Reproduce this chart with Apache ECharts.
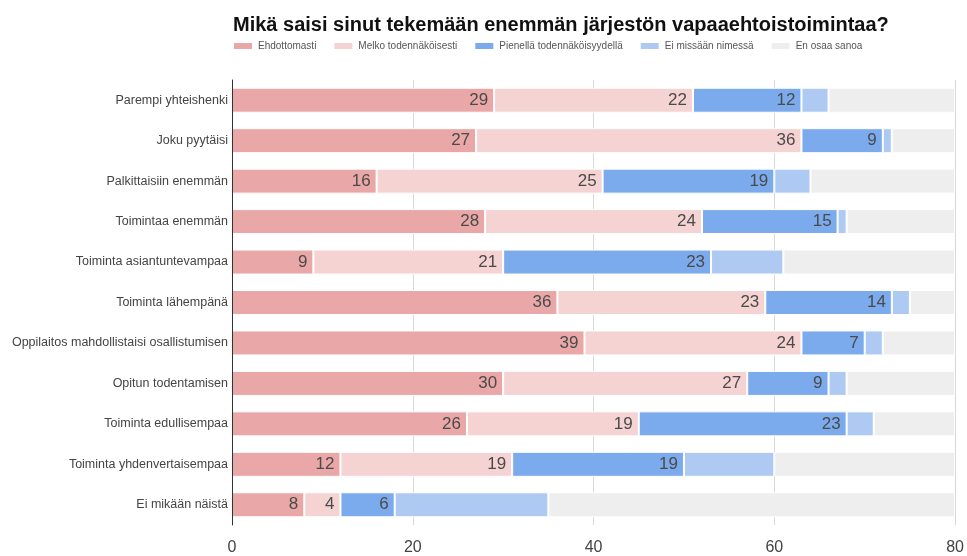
<!DOCTYPE html>
<html>
<head>
<meta charset="utf-8">
<script src="https://cdn.jsdelivr.net/npm/echarts@6/dist/echarts.min.js"></script>
<style>
html, body { margin: 0; padding: 0; background: #fff; }
#main { width: 967px; height: 556px; }
</style>
</head>
<body>
<div id="main"></div>
<script>
var categories = [
    'Parempi yhteishenki',
    'Joku pyytäisi',
    'Palkittaisiin enemmän',
    'Toimintaa enemmän',
    'Toiminta asiantuntevampaa',
    'Toiminta lähempänä',
    'Oppilaitos mahdollistaisi osallistumisen',
    'Opitun todentamisen',
    'Toiminta edullisempaa',
    'Toiminta yhdenvertaisempaa',
    'Ei mikään näistä'
];
var seriesNames = ['Ehdottomasti', 'Melko todennäköisesti', 'Pienellä todennäköisyydellä', 'Ei missään nimessä', 'En osaa sanoa'];
var ehdottomasti = [29, 27, 16, 28, 9, 36, 39, 30, 26, 12, 8];
var melko = [22, 36, 25, 24, 21, 23, 24, 27, 19, 19, 4];
var pienella = [12, 9, 19, 15, 23, 14, 7, 9, 23, 19, 6];
var eiMissaan = [3, 1, 4, 1, 8, 2, 2, 2, 3, 10, 17];
var enOsaa = [14, 7, 16, 12, 19, 5, 8, 12, 9, 20, 45];
var xTicks = [0, 20, 40, 60, 80];

var colors = ['#eaa7a7', '#f5d3d3', '#7babec', '#aecaf2', '#eeeeee'];
var values = [ehdottomasti, melko, pienella, eiMissaan, enOsaa];

var myChart = echarts.init(document.getElementById('main'));

var series = [];
for (var i = 0; i < seriesNames.length; i++) {
    series.push({
        name: seriesNames[i],
        type: 'bar',
        stack: 'total',
        barWidth: 25,
        data: values[i],
        itemStyle: { color: colors[i], borderColor: '#fff', borderWidth: 1 },
        label: {
            show: i < 3, // vain kolmelle ensimmäiselle
            position: 'insideRight',
            distance: 6,
            color: '#4a4a4a',
            fontSize: 17,
            fontFamily: 'Liberation Sans'
        },
        emphasis: { disabled: true }
    });
}

var option = {
    animation: false,
    color: colors,
    title: {
        text: 'Mikä saisi sinut tekemään enemmän järjestön vapaaehtoistoimintaa?',
        left: 228,
        top: 10,
        textStyle: { fontSize: 20, fontWeight: 'bold', color: '#111', fontFamily: 'Liberation Sans' }
    },
    legend: {
        left: 227,
        top: 36,
        itemWidth: 20,
        itemHeight: 8,
        itemGap: 16,
        icon: 'rect',
        textStyle: { fontSize: 10, color: '#555', fontFamily: 'Liberation Sans' },
        data: seriesNames
    },
    grid: { left: 232, right: 11, top: 80, bottom: 27, containLabel: false },
    xAxis: {
        type: 'value',
        min: xTicks[0],
        max: xTicks[xTicks.length - 1],
        interval: 20,
        axisLine: { show: false },
        axisTick: { show: false },
        splitLine: { lineStyle: { color: '#d9d9d9', width: 1 } },
        axisLabel: { fontSize: 16, color: '#444', margin: 15, fontFamily: 'Liberation Sans' }
    },
    yAxis: {
        type: 'category',
        inverse: true,
        z: 5,
        data: categories,
        axisLine: { show: true, lineStyle: { color: '#333', width: 1 } },
        axisTick: { show: false },
        axisLabel: { fontSize: 12.5, color: '#444', margin: 4, fontFamily: 'Liberation Sans' }
    },
    series: series
};
myChart.setOption(option, true);
</script>
</body>
</html>
